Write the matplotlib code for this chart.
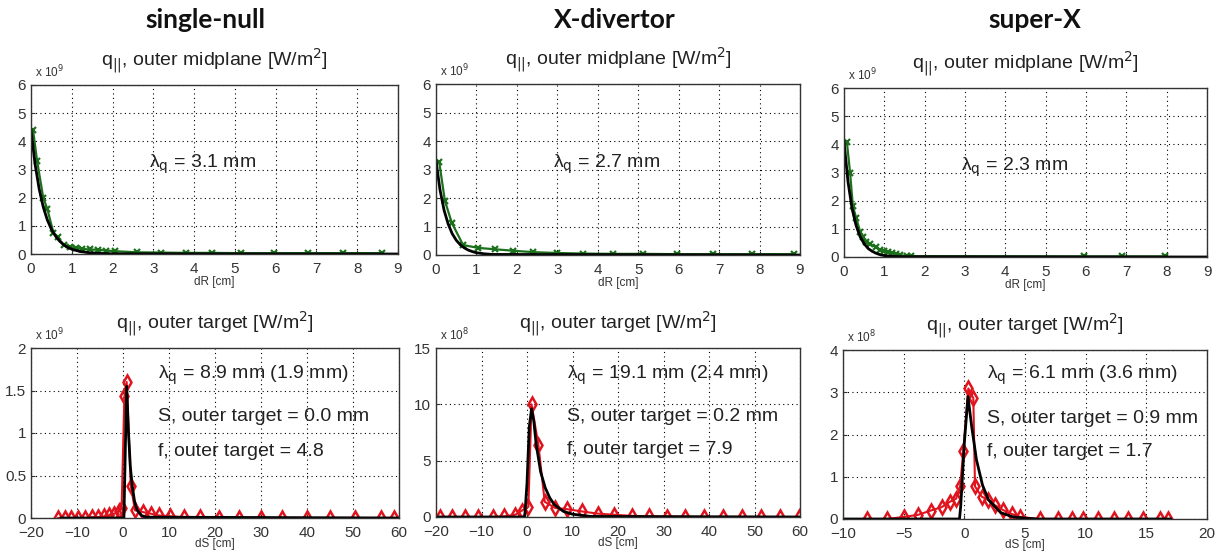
import matplotlib
matplotlib.use("Agg")
import matplotlib.pyplot as plt

plt.rcParams['font.family'] = ['Liberation Sans', 'DejaVu Sans']

# ---------------- data ----------------
configs = ["single-null", "X-divertor", "super-X"]

# outer midplane (x in cm, q in units of 1e9)
mid_sn_x = [0.05, 0.15, 0.3, 0.4, 0.55, 0.65, 0.8, 0.95, 1.1, 1.25, 1.45, 1.65, 1.85, 2.05, 2.6, 3.2, 3.8, 4.45, 5.15, 5.95, 6.8, 7.65, 8.6]
mid_sn_y = [4.4, 3.3, 2.0, 1.6, 0.75, 0.6, 0.32, 0.25, 0.22, 0.18, 0.16, 0.15, 0.12, 0.10, 0.06, 0.05, 0.04, 0.04, 0.03, 0.03, 0.03, 0.03, 0.03]
fit_sn_x = [0, 0.1, 0.2, 0.3, 0.4, 0.5, 0.6, 0.7, 0.8, 0.9, 1.0, 1.2, 1.4, 1.6, 2.0, 9.0]
fit_sn_y = [4.4, 3.19, 2.31, 1.67, 1.21, 0.88, 0.64, 0.46, 0.33, 0.24, 0.17, 0.09, 0.05, 0.025, 0.007, 0.0]

mid_xd_x = [0.08, 0.22, 0.39, 0.67, 1.04, 1.46, 1.91, 2.4, 3.0, 3.64, 4.38, 5.12, 5.96, 6.86, 7.82, 8.84]
mid_xd_y = [3.25, 1.9, 1.13, 0.35, 0.25, 0.2, 0.15, 0.1, 0.07, 0.05, 0.04, 0.04, 0.03, 0.03, 0.03, 0.03]
fit_xd_x = [0, 0.1, 0.2, 0.3, 0.4, 0.5, 0.6, 0.7, 0.8, 0.9, 1.0, 1.2, 1.4, 9.0]
fit_xd_y = [3.3, 2.28, 1.57, 1.09, 0.75, 0.52, 0.36, 0.25, 0.17, 0.12, 0.08, 0.04, 0.02, 0.0]

mid_sx_x = [0.07, 0.15, 0.22, 0.3, 0.4, 0.47, 0.55, 0.65, 0.8, 0.9, 1.0, 1.1, 1.2, 1.3, 1.4, 1.55, 1.65, 5.95, 6.9, 7.95]
mid_sx_y = [4.1, 3.0, 1.8, 1.4, 0.9, 0.7, 0.55, 0.45, 0.35, 0.25, 0.2, 0.17, 0.15, 0.1, 0.06, 0.04, 0.03, 0.02, 0.02, 0.02]
fit_sx_x = [0, 0.1, 0.2, 0.3, 0.4, 0.5, 0.6, 0.7, 0.8, 0.9, 1.0, 1.2, 1.5, 9.0]
fit_sx_y = [4.1, 2.66, 1.72, 1.12, 0.72, 0.47, 0.30, 0.20, 0.13, 0.08, 0.05, 0.02, 0.01, 0.0]

# outer target (x in cm)
tgt_sn_x = [-14.1, -12.6, -11.2, -9.7, -8.3, -6.8, -5.4, -4.1, -3.0, -1.9, -0.9, -0.3, 0.3, 0.8, 1.7, 2.6, 4.3, 6.1, 7.8, 10.3, 13.2, 16.8, 20.8, 25.2, 29.9, 34.6, 40.0, 45.1, 50.5, 56.0, 58.9]
tgt_sn_y = [0.0, 0.0, 0.0, 0.0, 0.0, 0.01, 0.01, 0.02, 0.03, 0.05, 0.08, 0.12, 1.43, 1.6, 0.38, 0.09, 0.07, 0.05, 0.03, 0.02, 0.01, 0.01, 0.0, 0.0, 0.0, 0.0, 0.0, 0.0, 0.0, 0.0, 0.0]
tfit_sn_x = [-13.5, 0.2, 0.5, 0.8, 1.2, 1.6, 2.0, 2.5, 3.0, 4.0, 5.0, 60.0]
tfit_sn_y = [0.0, 0.0, 0.8, 1.55, 1.0, 0.6, 0.38, 0.2, 0.1, 0.03, 0.01, 0.0]

tgt_xd_x = [-19.1, -16.4, -13.6, -10.7, -7.5, -5.05, -2.6, -1.2, 0.3, 1.0, 2.5, 3.9, 6.2, 8.7, 12.0, 15.5, 19.2, 23.0, 26.9, 30.7, 34.7, 38.9, 43.0, 47.2, 51.4, 55.6, 59.8]
tgt_xd_y = [0.0, 0.0, 0.0, 0.0, 0.0, 0.05, 0.2, 0.55, 0.9, 10.0, 6.4, 1.35, 0.8, 0.7, 0.5, 0.3, 0.2, 0.1, 0.05, 0.03, 0.02, 0.0, 0.0, 0.0, 0.0, 0.0, 0.0]
tfit_xd_x = [-20.0, -0.5, 0.0, 0.5, 1.0, 1.5, 2.0, 3.0, 4.0, 5.0, 6.0, 8.0, 10.0, 14.0, 60.0]
tfit_xd_y = [0.0, 0.0, 3.0, 8.0, 9.6, 8.5, 6.5, 4.0, 2.6, 1.7, 1.1, 0.5, 0.25, 0.05, 0.0]

tgt_sx_x = [-8.05, -6.4, -4.95, -3.8, -2.77, -1.87, -1.18, -0.68, -0.35, -0.08, 0.33, 0.74, 0.88, 1.43, 1.98, 2.5, 3.2, 3.9, 4.6, 6.2, 7.7, 8.9, 9.8, 11.0, 12.3, 13.5, 14.7, 16.1, 16.8]
tgt_sx_y = [0.0, 0.0, 0.05, 0.1, 0.2, 0.28, 0.41, 0.48, 0.77, 1.62, 3.09, 2.86, 0.77, 0.53, 0.45, 0.33, 0.21, 0.12, 0.05, 0.0, 0.0, 0.0, 0.0, 0.0, 0.0, 0.0, 0.0, 0.0, 0.0]
tfit_sx_x = [-10.0, -0.4, -0.3, 0.0, 0.3, 0.6, 1.0, 1.5, 2.0, 3.0, 4.0, 5.0, 6.0, 17.0]
tfit_sx_y = [0.0, 0.0, 0.3, 1.8, 2.9, 2.2, 1.4, 0.8, 0.45, 0.15, 0.05, 0.02, 0.0, 0.0]

mid_lambda = ["3.1", "2.7", "2.3"]
tgt_lambda = ["8.9 mm (1.9 mm)", "19.1 mm (2.4 mm)", "6.1 mm (3.6 mm)"]
tgt_S = ["0.0", "0.2", "0.9"]
tgt_f = ["4.8", "7.9", "1.7"]
mid_exp = ["9", "9", "9"]
tgt_exp = ["9", "8", "8"]

# ---------------- layout ----------------
W, H = 1222, 556
fig = plt.figure(figsize=(W / 100, H / 100), dpi=100)

def box(l, r, t, b):
    return [l / W, (H - b) / H, (r - l) / W, (b - t) / H]

top_boxes = [box(31, 398, 85, 254), box(436, 800, 84, 255), box(844, 1207, 88, 257)]
bot_boxes = [box(31, 399, 348, 518), box(436, 800, 348, 517), box(843, 1207, 350, 519)]
title_x = [205, 615, 1035]

green = '#1c701c'
red = '#e0141e'
tick_col = '#333333'
txt_col = '#222222'

def style(ax):
    ax.grid(True, linestyle=(0, (1, 3)), color='black', linewidth=0.8)
    ax.tick_params(direction='in', length=3, labelsize=11, colors=tick_col)
    ax.tick_params(axis='x', pad=5.5)
    ax.tick_params(axis='y', pad=3.5)
    for s in ax.spines.values():
        s.set_color('#333333')
        s.set_linewidth(1.0)

mids = [(mid_sn_x, mid_sn_y, fit_sn_x, fit_sn_y),
        (mid_xd_x, mid_xd_y, fit_xd_x, fit_xd_y),
        (mid_sx_x, mid_sx_y, fit_sx_x, fit_sx_y)]
tgts = [(tgt_sn_x, tgt_sn_y, tfit_sn_x, tfit_sn_y, (-20, 60), (0, 2), [0, 0.5, 1, 1.5, 2], ["0", "0.5", "1", "1.5", "2"], range(-20, 61, 10), (7.7, 1.68, 1.19, 0.78)),
        (tgt_xd_x, tgt_xd_y, tfit_xd_x, tfit_xd_y, (-20, 60), (0, 15), [0, 5, 10, 15], ["0", "5", "10", "15"], range(-20, 61, 10), (8.7, 12.6, 8.9, 5.95)),
        (tgt_sx_x, tgt_sx_y, tfit_sx_x, tfit_sx_y, (-10, 20), (0, 4), [0, 1, 2, 3, 4], ["0", "1", "2", "3", "4"], range(-10, 21, 5), (1.85, 3.41, 2.38, 1.59))]

lam = "\u03bb$_{\\rm q}$"

for i in range(3):
    fig.text(title_x[i] / W, 1 - 20 / H, configs[i], ha='center', va='center',
             fontsize=19, fontweight='bold', family=['Lato', 'DejaVu Sans'], color='#111111')

    # midplane
    ax = fig.add_axes(top_boxes[i])
    mx, my, fx, fy = mids[i]
    ax.plot(mx, my, color=green, marker='x', markersize=4, markeredgewidth=1.6, linewidth=1.6)
    ax.plot(fx, fy, color='black', linewidth=2)
    ax.set_xlim(0, 9)
    ax.set_ylim(0, 6)
    ax.set_xticks(range(0, 10))
    ax.set_yticks(range(0, 7))
    style(ax)
    ax.set_xlabel("dR [cm]", fontsize=8.5, color=tick_col, labelpad=0)
    ax.set_title(r"q$_{||}$, outer midplane [W/m$^2$]", fontsize=14, pad=14, color=txt_col)
    ax.text(0.01, 1.03, r"x 10$^{%s}$" % mid_exp[i], transform=ax.transAxes, fontsize=8.5, color=tick_col, ha='left', va='bottom')
    ax.text(2.9, 3.2, lam + " = %s mm" % mid_lambda[i], fontsize=14, color=txt_col, va='center')

    # target
    ax = fig.add_axes(bot_boxes[i])
    tx, ty, gx, gy, xl, yl, yt, ytl, xt, tp = tgts[i]
    ax.plot(tx, ty, color=red, marker='d', markersize=7, markerfacecolor='none', markeredgewidth=1.8, linewidth=1.5)
    ax.plot(gx, gy, color='black', linewidth=2)
    ax.set_xlim(*xl)
    ax.set_ylim(*yl)
    ax.set_xticks(list(xt))
    ax.set_yticks(yt)
    ax.set_yticklabels(ytl)
    style(ax)
    ax.set_xlabel("dS [cm]", fontsize=8.5, color=tick_col, labelpad=-1)
    ax.set_title(r"q$_{||}$, outer target [W/m$^2$]", fontsize=14, pad=14, color=txt_col)
    ax.text(0.01, 1.03, r"x 10$^{%s}$" % tgt_exp[i], transform=ax.transAxes, fontsize=8.5, color=tick_col, ha='left', va='bottom')
    ax.text(tp[0], tp[1], lam + " = %s" % tgt_lambda[i], fontsize=14, color=txt_col, va='center')
    ax.text(tp[0], tp[2], "S, outer target = %s mm" % tgt_S[i], fontsize=14, color=txt_col, va='center')
    ax.text(tp[0], tp[3], "f, outer target = %s" % tgt_f[i], fontsize=14, color=txt_col, va='center')

fig.savefig("out.png", dpi=100)
